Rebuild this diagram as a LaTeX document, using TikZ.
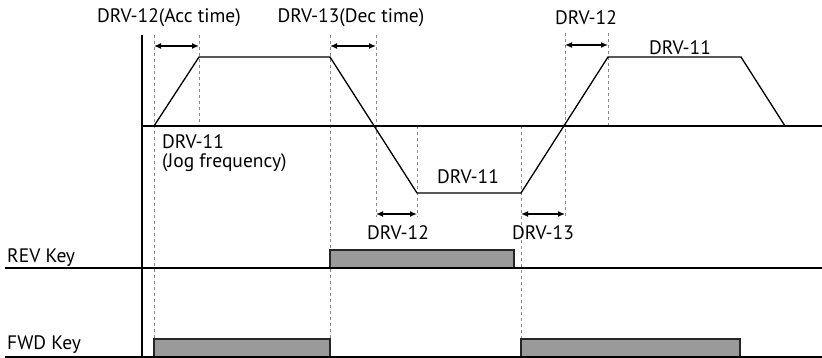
\documentclass[tikz,border=0pt]{standalone}
\usepackage{fontspec}
\setmainfont{PT Sans}
\usetikzlibrary{arrows.meta}
\definecolor{barfill}{HTML}{9A9A9A}
\definecolor{guidecol}{HTML}{8C8C8C}
\begin{document}
\begin{tikzpicture}[x=1pt,y=-1pt,
 axis/.style={line width=1.8pt},
 guide/.style={guidecol, line width=0.9pt, dash pattern=on 3pt off 3pt},
 ramp/.style={line width=1.3pt, line join=miter},
 span/.style={line width=1.3pt, {Latex[length=7pt,width=6pt]}-{Latex[length=7pt,width=6pt]}},
 bar/.style={fill=barfill, draw=black!85, line width=1.1pt},
 lbl/.style={font=\fontsize{19.5}{22}\selectfont, inner sep=0pt}]
\useasboundingbox (0,0) rectangle (822,358);
% axes
\coordinate (vtop) at (142,35);
\coordinate (vbot) at (142,358);
\coordinate (hl) at (142,126);
\coordinate (hr) at (822,126);
\coordinate (revl) at (5,268);
\coordinate (revr) at (822,268);
\coordinate (fwdl) at (5,357);
\coordinate (fwdr) at (822,357);
% guides
\draw[guide] (154,35) -- (154,339);
\draw[guide] (199,35) -- (199,126);
\draw[guide] (330,35) -- (330,339);
\draw[guide] (376,35) -- (376,217);
\draw[guide] (417,126) -- (417,217);
\draw[guide] (521,126) -- (521,339);
\draw[guide] (565,33) -- (565,217);
\draw[guide] (608,33) -- (608,126);
% bars
\draw[bar] (154,357) rectangle (330,339);
\draw[bar] (521,357) rectangle (740,339);
\draw[bar] (330,268) rectangle (514,250);
% axes lines
\draw[axis] (vtop) -- (vbot);
\draw[axis] (hl) -- (hr);
\draw[axis] (revl) -- (revr);
\draw[axis] (fwdl) -- (fwdr);
% ramp profile
\coordinate (p0) at (154,126);
\coordinate (p1) at (199,57);
\coordinate (p2) at (330,57);
\coordinate (p3) at (417,193);
\coordinate (p4) at (521,193);
\coordinate (p5) at (608,57);
\coordinate (p6) at (741,57);
\coordinate (p7) at (785,126);
\draw[ramp] (p0) -- (p1) -- (p2) -- (p3) -- (p4) -- (p5) -- (p6) -- (p7);
% span arrows
\coordinate (a1l) at (154,46); \coordinate (a1r) at (199,46);
\coordinate (a2l) at (330,46); \coordinate (a2r) at (376,46);
\coordinate (a3l) at (565,45); \coordinate (a3r) at (608,45);
\coordinate (a4l) at (376,214); \coordinate (a4r) at (417,214);
\coordinate (a5l) at (521,214); \coordinate (a5r) at (565,214);
\draw[span] (a1l) -- (a1r);
\draw[span] (a2l) -- (a2r);
\draw[span] (a3l) -- (a3r);
\draw[span] (a4l) -- (a4r);
\draw[span] (a5l) -- (a5r);
% labels
\node[lbl] (t1) at (169,18) {DRV-12(Acc time)};
\node[lbl] (t2) at (351,18) {DRV-13(Dec time)};
\node[lbl] (t3) at (586,18) {DRV-12};
\node[lbl] (t4) at (680,48) {DRV-11};
\node[lbl,anchor=west] (t5) at (162,142) {DRV-11};
\node[lbl,anchor=west] (t6) at (162,163) {(Jog frequency)};
\node[lbl] (t7) at (468,177) {DRV-11};
\node[lbl] (t8) at (398,233) {DRV-12};
\node[lbl] (t9) at (543,233) {DRV-13};
\node[lbl,anchor=west] (t10) at (7,258) {REV Key};
\node[lbl,anchor=west] (t11) at (7,345) {FWD Key};
\end{tikzpicture}
\end{document}
